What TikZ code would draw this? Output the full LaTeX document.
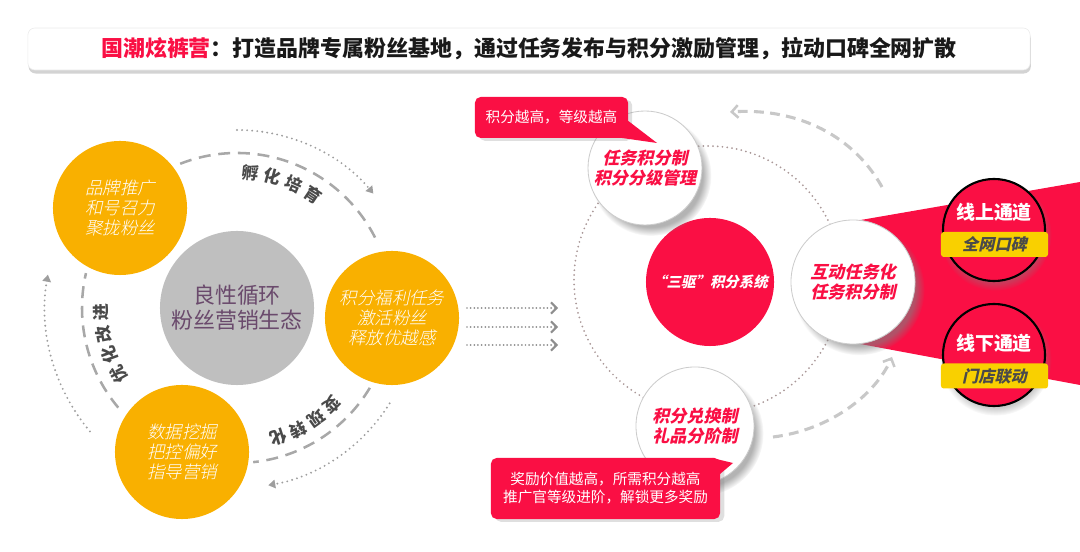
\documentclass[tikz,border=0pt]{standalone}
\usepackage{fontspec}
\setmainfont{Noto Sans CJK SC}
\newfontfamily\slantcjk{Noto Sans CJK SC}[FakeSlant=0.22]
\newfontfamily\slantlight{Noto Sans CJK SC Light}[FakeSlant=0.22]
\usetikzlibrary{arrows.meta,calc,positioning,shadows,fadings}
\definecolor{fanorange}{HTML}{F9B000}
\definecolor{ecogray}{HTML}{BFBFBF}
\definecolor{ecotext}{HTML}{6A4A6C}
\definecolor{hotred}{HTML}{FA0F44}
\definecolor{arcgray}{HTML}{A8A8A8}
\definecolor{dotgray}{HTML}{9E9E9E}
\definecolor{ringdot}{HTML}{AA9898}
\definecolor{lightdash}{HTML}{C8C8C8}
\definecolor{tagyellow}{HTML}{F9D000}
\definecolor{labelgray}{HTML}{4A4A4A}

\begin{document}
\begin{tikzpicture}[x=0.025cm, y=0.025cm,
  every node/.style={inner sep=0pt, align=center},
  banner/.style={rounded corners=5pt, fill=white, draw=black!8, minimum width=25.05cm, minimum height=1.05cm,
    drop shadow={shadow xshift=0.5pt, shadow yshift=-2.5pt, opacity=0.35},
    font=\fontsize{15.6}{18}\selectfont\bfseries, text=black!90},
  ecoball/.style={circle, fill=ecogray, minimum size=3.85cm, text=ecotext, font=\fontsize{15.6}{17.8}\selectfont},
  orangeball/.style={circle, fill=fanorange, minimum size=3.35cm, text=white, font=\fontsize{12.4}{14.2}\slantlight},
  ecodash/.style={arcgray, line width=1.8pt, dash pattern=on 8.5pt off 5.5pt},
  outerdot/.style={dotgray, line width=1.5pt, line cap=round, dash pattern=on 0pt off 3.6pt, -{Triangle[length=5pt, width=6pt]}},
  ringlabel/.style={text=labelgray, font=\fontsize{12}{12}\selectfont\bfseries},
  flowarrow/.style={dotgray!90!black, line width=1.4pt, line cap=round, dash pattern=on 0pt off 2.6pt,
    -{Straight Barb[length=4pt, width=8pt, line width=1.4pt]}},
  coreball/.style={circle, fill=hotred, minimum size=3.2cm, text=white, font=\fontsize{10.3}{12}\slantcjk\bfseries},
  whiteball/.style={circle, fill=white, draw=black!20, line width=0.6pt, minimum size=2.85cm, text=hotred,
    font=\fontsize{12.1}{14.2}\slantcjk\bfseries,
    circular drop shadow={shadow xshift=4pt, shadow yshift=-5pt, shadow scale=1.06, opacity=0.6}},
  ringdots/.style={ringdot, line width=1.4pt, line cap=round, dash pattern=on 0pt off 3.4pt},
  channelball/.style={circle, fill=hotred, draw=black, line width=1.5pt, minimum size=2.55cm,
    circular drop shadow={shadow xshift=1pt, shadow yshift=-3pt, opacity=0.4}},
  channeltitle/.style={text=white, font=\fontsize{13.5}{15}\selectfont\bfseries},
  channeltag/.style={rounded corners=2pt, fill=tagyellow, minimum width=2.675cm, minimum height=0.625cm,
    text=labelgray, font=\fontsize{11.5}{12}\slantcjk\bfseries},
  callout/.style={rounded corners=4pt, fill=hotred, text=white, font=\fontsize{10.4}{12.8}\selectfont,
    drop shadow={shadow xshift=3pt, shadow yshift=-2pt, opacity=0.25}},
  backdash/.style={lightdash, line width=2.2pt, dash pattern=on 7pt off 4.5pt,
    -{Straight Barb[length=4.5pt, width=9pt, line width=1.8pt]}}]
  \useasboundingbox (0,0) rectangle (1080,552);

  % --- Title banner ---
  \node[banner] (title) at (529,503)
    {\textcolor{hotred}{国潮炫裤营}：打造品牌专属粉丝基地，通过任务发布与积分激励管理，拉动口碑全网扩散};

  % --- Left: fan ecosystem cycle ---
  \node[ecoball] (eco) at (237,244) {良性循环\\粉丝营销生态};
  \node[orangeball] (brand) at (120,344) {品牌推广\\和号召力\\聚拢粉丝};
  \node[orangeball] (reward) at (392,234) {积分福利任务\\激活粉丝\\释放优越感};
  \node[orangeball] (mining) at (182,100) {数据挖掘\\把控偏好\\指导营销};

  % inner dashed ring between the balls
  \draw[ecodash] ([shift={(111.5:155)}]eco.center) arc[start angle=111.5, end angle=26, radius=155];
  \draw[ecodash] ([shift={(-31:155)}]eco.center) arc[start angle=-31, end angle=-84, radius=155];
  \draw[ecodash] ([shift={(220:155)}]eco.center) arc[start angle=220, end angle=167, radius=155];

  % outer dotted arrows
  \draw[outerdot] ([shift={(90:178)}]eco.center) arc[start angle=90, end angle=40, radius=178];
  \draw[outerdot] ([shift={(-32:180)}]eco.center) arc[start angle=-32, end angle=-80, radius=180];
  \draw[outerdot] ([shift={(220:192)}]eco.center) arc[start angle=220, end angle=170, radius=192];

  % ring labels
  \foreach \ch/\ang [count=\k] in {孵/84.5, 化/75, 培/65.5, 育/56}
    \node[ringlabel, rotate=\ang-90] (hatch\k) at ([shift={(\ang:136)}]eco.center) {\ch};
  \foreach \ch/\ang [count=\k] in {变/-45.5, 现/-54.4, 转/-63.3, 化/-72.2}
    \node[ringlabel, rotate=\ang-90] (cash\k) at ([shift={(\ang:136)}]eco.center) {\ch};
  \foreach \ch/\ang [count=\k] in {优/209.4, 化/200.2, 改/191, 进/181.7}
    \node[ringlabel, rotate=\ang-90] (tune\k) at ([shift={(\ang:136)}]eco.center) {\ch};

  % --- Flow arrows ---
  \foreach \y [count=\k] in {244,225,207} {
    \coordinate (fa\k) at (467,\y);
    \coordinate (fb\k) at (558,\y);
    \draw[flowarrow] (fa\k) -- (fb\k);
  }

  % --- Right: points system ---
  \fill[hotred] (855,331) -- (1080,370) -- (1080,167) -- (855,209) -- cycle;
  \coordinate (ringc) at (708,272);
  \draw[ringdots] (ringc) circle[radius=134];
  \node[coreball] (core) at (710,270) {“三驱”积分系统};
  \node[whiteball] (tasks) at (645,384) {任务积分制\\积分分级管理};
  \node[whiteball, minimum size=2.95cm] (redeem) at (695,126) {积分兑换制\\礼品分阶制};
  \node[whiteball, minimum size=3.1cm] (interact) at (853,270) {互动任务化\\任务积分制};

  % channels
  \node[channelball] (online) at (994,322) {};
  \node[channeltitle] (onlinetxt) at (994,340) {线上通道};
  \node[channeltag] (onlinetag) at (994.5,307.5) {全网口碑};
  \node[channelball] (offline) at (994,197) {};
  \node[channeltitle] (offlinetxt) at (994,209) {线下通道};
  \node[channeltag] (offlinetag) at (994.5,176) {门店联动};

  % loop arrows round the system
  \coordinate (loopA) at (882,365);
  \coordinate (loopB) at (730,440);
  \draw[backdash] (loopA) .. controls (850,422) and (790,444) .. (loopB);
  \coordinate (loopC) at (773,115);
  \coordinate (loopD) at (892,195);
  \draw[backdash] (loopC) .. controls (830,122) and (875,157) .. (loopD);

  % --- Callouts ---
  \node[callout, minimum width=3.825cm, minimum height=1.025cm] (tip1) at (551.5,434.5) {积分越高，等级越高};
  \fill[hotred] (627,432) -- (657,409) -- (615,415) -- cycle;
  \node[callout, minimum width=5.725cm, minimum height=1.525cm] (tip2) at (605.5,63.5)
    {奖励价值越高，所需积分越高\\推广官等级进阶，解锁更多奖励};
  \fill[hotred] (712,94) -- (733,89) -- (720,78) -- cycle;
\end{tikzpicture}
\end{document}
